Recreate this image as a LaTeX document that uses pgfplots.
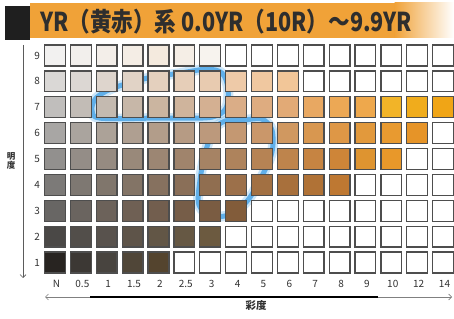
\documentclass[border=0pt]{standalone}
\usepackage{pgfplots}
\usepackage{pgfplotstable}
\pgfplotsset{compat=1.18}
\usepackage{fontspec}
\setmainfont{Noto Sans CJK JP}
\usetikzlibrary{arrows.meta}
\definecolor{cellborder}{RGB}{78,78,78}
\definecolor{loopblue}{RGB}{85,170,232}
\definecolor{barorange}{RGB}{240,162,56}
\definecolor{labelgray}{RGB}{50,50,50}
\pgfplotstableread{
x y r g b
0 9 242 241 240
1 9 242 239 236
2 9 243 238 233
3 9 244 237 229
4 9 244 234 222
5 9 245 238 230
6 9 247 243 238
0 8 218 216 214
1 8 220 215 211
2 8 222 213 205
3 8 225 211 198
4 8 228 208 190
5 8 230 206 184
6 8 232 203 176
7 8 238 202 168
8 8 240 200 160
9 8 242 198 152
0 7 192 190 188
1 7 194 188 182
2 7 196 186 176
3 7 199 183 168
4 7 203 181 160
5 7 207 180 156
6 7 212 176 146
7 7 218 173 135
8 7 222 172 128
9 7 226 170 118
10 7 232 168 98
11 7 236 168 85
12 7 238 168 76
13 7 242 180 40
14 7 240 172 28
15 7 240 165 22
0 6 168 166 164
1 6 170 164 158
2 6 172 162 152
3 6 175 159 145
4 6 178 157 138
5 6 182 155 132
6 6 188 153 124
7 6 196 152 114
8 6 202 151 106
9 6 208 152 96
10 6 216 151 80
11 6 222 151 70
12 6 226 153 60
13 6 232 154 48
14 6 230 148 40
0 5 146 144 142
1 5 148 141 135
2 5 150 139 129
3 5 153 137 122
4 5 156 134 115
5 5 160 132 108
6 5 166 131 100
7 5 174 131 92
8 5 182 131 84
9 5 190 132 76
10 5 198 132 66
11 5 206 133 56
12 5 222 148 48
13 5 232 152 42
0 4 124 122 120
1 4 126 120 114
2 4 128 118 108
3 4 131 116 102
4 4 134 113 95
5 4 138 111 88
6 4 144 110 80
7 4 156 112 74
8 4 162 112 66
9 4 168 112 60
10 4 176 114 54
11 4 190 120 50
0 3 104 102 100
1 3 106 100 95
2 3 108 98 90
3 3 111 96 84
4 3 114 94 78
5 3 118 93 72
6 3 122 92 66
7 3 130 92 58
0 2 74 72 70
1 2 82 78 74
2 2 88 82 77
3 2 94 84 73
4 2 98 86 70
5 2 102 88 68
6 2 108 90 64
0 1 40 36 33
1 1 60 56 52
2 1 72 68 63
3 1 80 70 56
4 1 84 68 46
}\cells
\begin{document}
\begin{tikzpicture}[x=1pt,y=1pt]
\useasboundingbox (0,0) rectangle (454,318);
\fill[white] (0,0) rectangle (454,318);
% title bar
\fill[barorange] (30,280) rectangle (395,315);
\shade[left color=barorange, right color=white] (394.5,280) rectangle (454,315);
\fill[black!88] (5,278) rectangle (30,312);
\node[anchor=base west, inner sep=0pt, text=black!82] at (40,286) {\scalebox{0.83}[1]{\fontsize{26}{26}\selectfont\bfseries YR（黄赤）系 0.0YR（10R）～9.9YR}};
% axis arrows
\draw[labelgray!80, line width=0.7pt, -{Straight Barb[length=3pt]}] (23,273) -- (23,40);
\draw[gray, line width=0.7pt, {Straight Barb[length=3pt]}-{Straight Barb[length=3pt]}] (45,21) -- (452,21);
\draw[black, line width=2.2pt] (90,21) -- (378,21);
\node[font=\fontsize{8.5}{9.5}\selectfont\bfseries, align=center, inner sep=0pt, text=labelgray] at (11,157) {明\\度};
\node[font=\fontsize{10.5}{12}\selectfont\bfseries, text=labelgray] at (256,12) {彩度};
\begin{axis}[
  at={(42.06pt,42.55pt)}, anchor=south west,
  scale only axis, width=413.9pt, height=232.9pt,
  xmin=-0.5, xmax=15.5, ymin=0.5, ymax=9.5,
  axis line style={draw=none}, major tick length=0pt,
  clip=false,
  xtick={0,...,15},
  xticklabels={N,0.5,1,1.5,2,2.5,3,4,5,6,7,8,9,10,12,14},
  ytick={1,...,9},
  yticklabels={1,2,3,4,5,6,7,8,9},
  xticklabel style={anchor=base, inner sep=0pt, yshift=-12pt, xshift=1.5pt, font=\fontsize{10}{12}\selectfont, text=labelgray},
  yticklabel style={anchor=east, inner sep=0pt, xshift=-2pt, font=\fontsize{10}{12}\selectfont, text=labelgray},
]
% white cells
\addplot[only marks, mark=square*, mark size=10.4pt, mark options={fill=white, draw=cellborder, line width=1.3pt}] coordinates {
(7,9)(8,9)(9,9)(10,9)(11,9)(12,9)(13,9)(14,9)(15,9)
(10,8)(11,8)(12,8)(13,8)(14,8)(15,8)
(15,6)
(14,5)(15,5)
(12,4)(13,4)(14,4)(15,4)
(8,3)(9,3)(10,3)(11,3)(12,3)(13,3)(14,3)(15,3)
(7,2)(8,2)(9,2)(10,2)(11,2)(12,2)(13,2)(14,2)(15,2)
(5,1)(6,1)(7,1)(8,1)(9,1)(10,1)(11,1)(12,1)(13,1)(14,1)(15,1)
};
% coloured cells
\addplot[scatter, only marks, mark=square*, mark size=10.4pt,
  visualization depends on={\thisrow{r}/255 \as \cellR},
  visualization depends on={\thisrow{g}/255 \as \cellG},
  visualization depends on={\thisrow{b}/255 \as \cellB},
  scatter/@pre marker code/.code={\definecolor{cellc}{rgb}{\cellR,\cellG,\cellB}\scope[draw=cellborder, fill=cellc, line width=1.3pt]},
  scatter/@post marker code/.code={\endscope}] table[x=x, y=y] {\cells};
% blue loops (glow + core)
\addplot[loopblue, line width=10pt, opacity=0.3, smooth, tension=0.55] coordinates {
(3.672,6.579) (1.739,6.579) (1.430,6.888) (1.585,7.351) (2.242,7.737) (3.556,8.124) (4.832,8.317) (5.876,8.471) (6.456,8.317) (6.687,7.737) (6.610,6.965) (6.069,6.618) (4.832,6.579) (3.672,6.579)};
\addplot[loopblue, line width=5pt, opacity=0.9, smooth, tension=0.55] coordinates {
(3.672,6.579) (1.739,6.579) (1.430,6.888) (1.585,7.351) (2.242,7.737) (3.556,8.124) (4.832,8.317) (5.876,8.471) (6.456,8.317) (6.687,7.737) (6.610,6.965) (6.069,6.618) (4.832,6.579) (3.672,6.579)};
\addplot[loopblue, line width=10pt, opacity=0.3, smooth, tension=0.55] coordinates {
(7.344,6.502) (8.001,6.541) (8.388,6.116) (8.388,5.266) (8.001,4.340) (7.460,3.413) (6.842,2.873) (6.069,2.795) (5.566,3.220) (5.605,4.185) (5.837,5.344) (6.185,6.193) (6.687,6.502) (7.344,6.502)};
\addplot[loopblue, line width=5pt, opacity=0.9, smooth, tension=0.55] coordinates {
(7.344,6.502) (8.001,6.541) (8.388,6.116) (8.388,5.266) (8.001,4.340) (7.460,3.413) (6.842,2.873) (6.069,2.795) (5.566,3.220) (5.605,4.185) (5.837,5.344) (6.185,6.193) (6.687,6.502) (7.344,6.502)};
\end{axis}
\end{tikzpicture}
\end{document}
